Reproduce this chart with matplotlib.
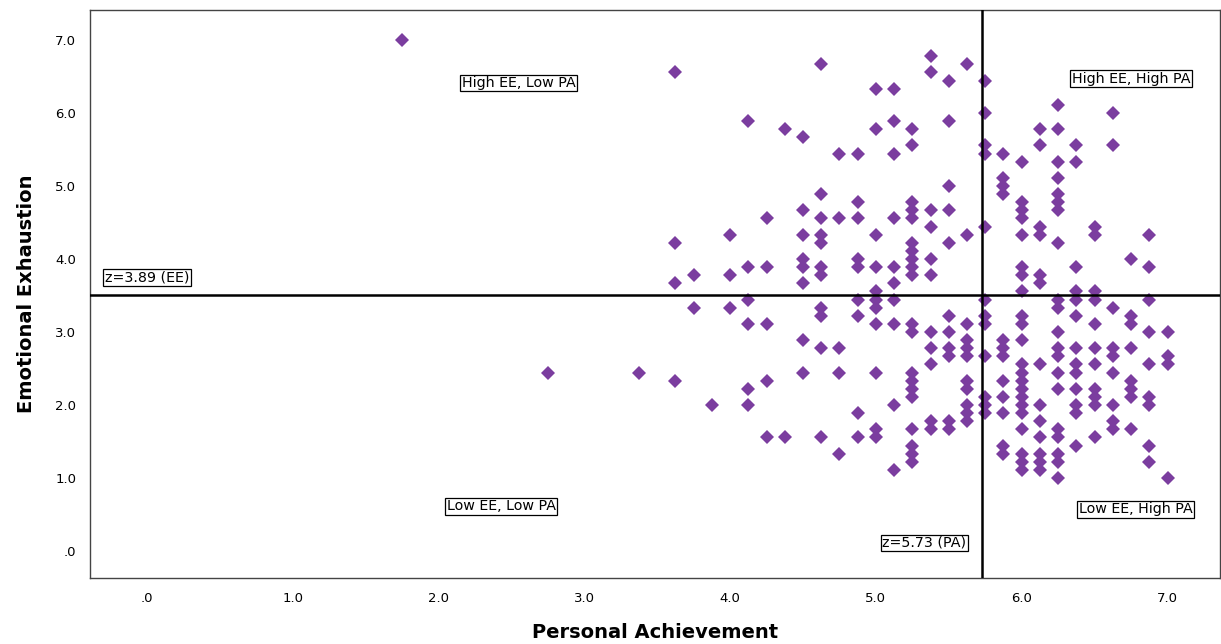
import numpy as np
import matplotlib.pyplot as plt

# Personal Achievement (x, steps of 1/8) and Emotional Exhaustion (y, steps of 1/9)
# each column: PA value -> list of EE values
pa_columns = [1.75, 2.75, 3.375, 3.625, 3.75, 3.875, 4.0, 4.125, 4.25, 4.375,
              4.5, 4.625, 4.75, 4.875, 5.0, 5.125, 5.25, 5.375, 5.5, 5.625,
              5.75, 5.875, 6.0, 6.125, 6.25, 6.375, 6.5, 6.625, 6.75, 6.875, 7.0]

ee_columns = [
    [7.0],
    [2.444],
    [2.444],
    [6.556, 4.222, 3.667, 2.333],
    [3.778, 3.333],
    [2.0],
    [4.333, 3.778, 3.333],
    [5.889, 3.889, 3.444, 3.111, 2.222, 2.0],
    [4.556, 3.889, 3.111, 2.333, 1.556],
    [5.778, 1.556],
    [5.667, 4.667, 4.333, 4.0, 3.889, 3.667, 2.889, 2.444],
    [6.667, 4.889, 4.556, 4.333, 4.222, 3.889, 3.778, 3.333, 3.222, 2.778, 1.556],
    [5.444, 4.556, 2.778, 2.444, 1.333],
    [5.444, 4.778, 4.556, 4.0, 3.889, 3.444, 3.222, 1.889, 1.556],
    [6.333, 5.778, 4.333, 3.889, 3.556, 3.444, 3.333, 3.111, 2.444, 1.667, 1.556],
    [6.333, 5.889, 5.444, 4.556, 3.889, 3.667, 3.444, 3.111, 2.0, 1.111],
    [5.778, 5.556, 4.778, 4.667, 4.556, 4.222, 4.111, 4.0, 3.889, 3.778, 3.111, 3.0,
     2.444, 2.333, 2.222, 2.111, 1.667, 1.444, 1.333, 1.222],
    [6.778, 6.556, 4.667, 4.444, 4.0, 3.778, 3.0, 2.778, 2.556, 1.778, 1.667],
    [6.444, 5.889, 5.0, 4.667, 4.222, 3.222, 3.0, 2.778, 2.667, 1.778, 1.667],
    [6.667, 4.333, 3.111, 2.889, 2.778, 2.667, 2.333, 2.222, 2.0, 1.889, 1.778],
    [6.444, 6.0, 5.556, 5.444, 4.444, 3.444, 3.222, 3.111, 2.667, 2.111, 2.0, 1.889],
    [5.444, 5.111, 5.0, 4.889, 2.889, 2.778, 2.667, 2.333, 2.111, 1.889, 1.444, 1.333],
    [5.333, 4.778, 4.667, 4.556, 4.333, 3.889, 3.778, 3.556, 3.222, 3.111, 2.889,
     2.556, 2.444, 2.333, 2.222, 2.111, 2.0, 1.889, 1.667, 1.333, 1.222, 1.111],
    [5.778, 5.556, 4.444, 4.333, 3.778, 3.667, 2.556, 2.0, 1.778, 1.556, 1.333, 1.222, 1.111],
    [6.111, 5.778, 5.333, 5.111, 4.889, 4.778, 4.667, 4.222, 3.444, 3.333, 3.0, 2.778,
     2.667, 2.444, 2.222, 1.667, 1.556, 1.333, 1.222, 1.0],
    [5.556, 5.333, 3.889, 3.556, 3.444, 3.222, 2.778, 2.556, 2.444, 2.222, 2.0, 1.889, 1.444],
    [4.444, 4.333, 3.556, 3.444, 3.111, 2.778, 2.556, 2.222, 2.111, 2.0, 1.556],
    [6.0, 5.556, 3.333, 2.778, 2.667, 2.444, 2.0, 1.778, 1.667],
    [4.0, 3.222, 3.111, 2.778, 2.333, 2.222, 2.111, 1.667],
    [4.333, 3.889, 3.444, 3.0, 2.556, 2.111, 2.0, 1.444, 1.222],
    [3.0, 2.667, 2.556, 1.0],
]

ee_cut = 3.51   # horizontal reference line (labelled z=3.89 (EE))
pa_cut = 5.73   # vertical reference line (labelled z=5.73 (PA))

ticks = [0, 1, 2, 3, 4, 5, 6, 7]
tick_labels = ['.0', '1.0', '2.0', '3.0', '4.0', '5.0', '6.0', '7.0']

quadrant_labels = [
    ('High EE, Low PA', 2.55, 6.41),
    ('High EE, High PA', 6.75, 6.47),
    ('z=3.89 (EE)', 0.0, 3.75),
    ('Low EE, Low PA', 2.43, 0.61),
    ('Low EE, High PA', 6.78, 0.57),
    ('z=5.73 (PA)', 5.33, 0.11),
]

pa = []
ee = []
for x, ys in zip(pa_columns, ee_columns):
    for y in ys:
        pa.append(x)
        ee.append(y)

plt.rcParams['font.family'] = 'DejaVu Sans'

fig = plt.figure(figsize=(12.21, 6.44), dpi=100)
ax = fig.add_axes([0.0737, 0.1025, 0.9255, 0.882])

ax.plot(pa, ee, linestyle='none', marker='D', markersize=7.6,
        color='#7b3d9f', markeredgewidth=0, zorder=3)

ax.axhline(ee_cut, color='black', linewidth=1.8, zorder=4)
ax.axvline(pa_cut, color='black', linewidth=1.8, zorder=4)

for text, x, y in quadrant_labels:
    ax.text(x, y, text, ha='center', va='center', fontsize=10.3, zorder=5,
            bbox=dict(boxstyle='square,pad=0.1', facecolor='white',
                      edgecolor='black', linewidth=0.9))

ax.set_xlim(-0.39, 7.36)
ax.set_ylim(-0.37, 7.41)
ax.set_xticks(ticks)
ax.set_xticklabels(tick_labels)
ax.set_yticks(ticks)
ax.set_yticklabels(tick_labels)
ax.tick_params(axis='both', length=0, labelsize=9.5, pad=10)
for side in ax.spines.values():
    side.set_color('#444444')
    side.set_linewidth(1.0)

ax.set_xlabel('Personal Achievement', fontsize=14, fontweight='bold', labelpad=13)
ax.set_ylabel('Emotional Exhaustion', fontsize=14, fontweight='bold', labelpad=14)

fig.savefig('out.png', dpi=100)
